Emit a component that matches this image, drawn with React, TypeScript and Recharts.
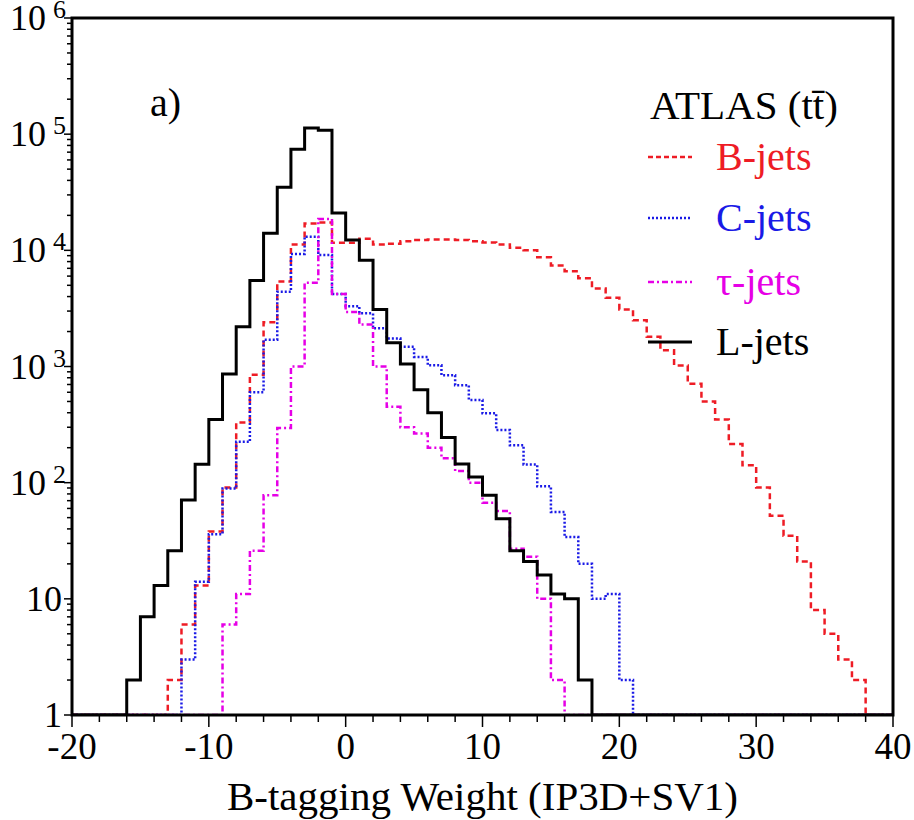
import { LineChart, Line, XAxis, YAxis } from 'recharts'

// histogram bins are 1 unit wide; each series lists its counts from its first bin
const X_MIN = -20
const X_MAX = 40
const BIN_EDGES = Array.from({ length: X_MAX - X_MIN + 1 }, (_, i) => X_MIN + i)

const B_JETS_FIRST = -13
const B_JETS = [
  2, 6, 13, 38, 91, 330, 850, 2400, 5400, 11200, 17000, 17400, 11600,
  11600, 12600, 11200, 11400, 12000, 12300, 12400, 12400, 12300, 12000, 11700,
  11200, 10500, 10000, 8700, 7400, 6600, 5750, 4700, 3900, 3100, 2500, 1800,
  1380, 1020, 710, 500, 350, 215, 141, 91, 52, 35, 21, 8, 5, 3, 2,
]

const C_JETS_FIRST = -12
const C_JETS = [
  3, 14, 36, 89, 225, 600, 1700, 4400, 9300, 13100, 9100, 4200,
  3300, 2870, 2130, 1740, 1480, 1210, 1025, 840, 690, 515, 395, 284, 210, 143,
  93, 56, 34, 20, 10, 11, 2,
]

const TAU_JETS_FIRST = -9
const TAU_JETS = [
  6, 11, 26, 78, 295, 1000, 5250, 18600, 4200,
  2950, 2300, 1000, 450, 300, 265, 200, 162, 126, 100, 67, 57, 27, 23, 10, 2,
]

const L_JETS_FIRST = -16
const L_JETS = [
  2, 7, 13, 26, 71, 144, 350, 860, 2200, 5500, 14000, 35000, 74000, 113000, 108000, 21000,
  12300, 8200, 3100, 1600, 1050, 630, 400, 245, 145, 112, 78, 49, 26, 21, 16, 11, 10, 2,
]

const X_TICKS = [-20, -18, -16, -14, -12, -10, -8, -6, -4, -2, 0, 2, 4, 6, 8, 10, 12, 14, 16, 18, 20, 22, 24, 26, 28, 30, 32, 34, 36, 38, 40]
const Y_DECADES = [1, 10, 100, 1000, 10000, 100000, 1000000]
const Y_TICKS = Y_DECADES.flatMap((d) => (d === 1000000 ? [d] : [1, 2, 3, 4, 5, 6, 7, 8, 9].map((m) => m * d)))

const Y_FLOOR = 1 // empty bins sit on the bottom of the log axis

const W = 914
const H = 820
const PLOT = { left: 72, top: 18, right: 893, bottom: 715 }
const FONT = 'Liberation Serif, Tinos, DejaVu Serif, serif'

const RED = '#ee1c25'
const BLUE = '#1a1ae6'
const MAGENTA = '#e600e6'

function binValue(first: number, counts: number[], edge: number) {
  const v = counts[edge - first]
  return v === undefined ? Y_FLOOR : v
}

const chartData = BIN_EDGES.map((e) => ({
  x: e,
  b: binValue(B_JETS_FIRST, B_JETS, e),
  c: binValue(C_JETS_FIRST, C_JETS, e),
  tau: binValue(TAU_JETS_FIRST, TAU_JETS, e),
  l: binValue(L_JETS_FIRST, L_JETS, e),
}))

function XTick({ x, y, payload }: any) {
  const v = payload.value as number
  const major = v % 10 === 0
  return (
    <g>
      <line x1={x} x2={x} y1={y} y2={y + (major ? 12 : 7)} stroke="#000" strokeWidth={1.5} />
      {major && (
        <text x={x} y={y + 44} textAnchor="middle" fontSize={37} fontFamily={FONT} fill="#000">
          {v}
        </text>
      )}
    </g>
  )
}

function YTick({ x, y, payload }: any) {
  const v = payload.value as number
  const exp = Math.round(Math.log10(v))
  const major = Math.abs(v - Math.pow(10, exp)) < 1e-6 * v
  let label = null
  if (major) {
    if (exp === 0 || exp === 1) {
      label = (
        <text x={x - 10} y={y + 12} textAnchor="end" fontSize={36} fontFamily={FONT} fill="#000">
          {exp === 0 ? '1' : '10'}
        </text>
      )
    } else {
      label = (
        <text x={x - 6} y={y + 12} textAnchor="end" fontFamily={FONT} fill="#000">
          <tspan fontSize={36}>10</tspan>
          <tspan fontSize={26} dx={7} dy={-12}>{exp}</tspan>
        </text>
      )
    }
  }
  return (
    <g>
      <line x1={x} x2={x - (major ? 8 : 5)} y1={y} y2={y} stroke="#000" strokeWidth={1.5} />
      {label}
    </g>
  )
}

const LEGEND = [
  { name: 'B-jets', color: RED, dash: '5 3', width: 2.5, y: 157 },
  { name: 'C-jets', color: BLUE, dash: '2 2', width: 2.5, y: 218 },
  { name: 'τ-jets', color: MAGENTA, dash: '6 3 2 3', width: 2.5, y: 282 },
  { name: 'L-jets', color: '#000', dash: undefined, width: 3, y: 342 },
]

export default function App() {
  return (
    <div style={{ position: 'absolute', left: 0, top: 0, width: W, height: H, background: '#fff' }}>
      <LineChart
        width={W}
        height={H}
        data={chartData}
        margin={{ top: PLOT.top, right: W - PLOT.right, bottom: 0, left: 0 }}
      >
        <XAxis
          dataKey="x"
          type="number"
          domain={[X_MIN, X_MAX]}
          ticks={X_TICKS}
          interval={0}
          height={H - PLOT.bottom}
          axisLine={false}
          tickLine={false}
          tickSize={0}
          tickMargin={0}
          tick={<XTick />}
          label={{
            value: 'B-tagging Weight (IP3D+SV1)',
            position: 'insideBottom',
            offset: 10,
            style: { fontSize: 41, fontFamily: FONT, fill: '#000' },
          }}
        />
        <YAxis
          type="number"
          scale="log"
          domain={[1, 1000000]}
          allowDataOverflow
          ticks={Y_TICKS}
          interval={0}
          width={PLOT.left}
          axisLine={false}
          tickLine={false}
          tickSize={0}
          tickMargin={0}
          tick={<YTick />}
        />
        <Line type="stepAfter" dataKey="b" stroke={RED} strokeWidth={2.5} strokeDasharray="6 4" dot={false} isAnimationActive={false} />
        <Line type="stepAfter" dataKey="c" stroke={BLUE} strokeWidth={2.5} strokeDasharray="2 2" dot={false} isAnimationActive={false} />
        <Line type="stepAfter" dataKey="tau" stroke={MAGENTA} strokeWidth={2.5} strokeDasharray="6 3 2 3" dot={false} isAnimationActive={false} />
        <Line type="stepAfter" dataKey="l" stroke="#000" strokeWidth={3} dot={false} isAnimationActive={false} />
      </LineChart>
      <svg
        width={W}
        height={H}
        style={{ position: 'absolute', left: 0, top: 0, pointerEvents: 'none' }}
      >
        <rect
          x={PLOT.left}
          y={PLOT.top}
          width={PLOT.right - PLOT.left}
          height={PLOT.bottom - PLOT.top}
          fill="none"
          stroke="#000"
          strokeWidth={3}
        />
        <text x={150} y={116} fontSize={40} fontFamily={FONT} fill="#000">a)</text>
        <text x={650} y={119} fontSize={41} fontFamily={FONT} fill="#000">ATLAS (tt̄)</text>
        {LEGEND.map((it) => (
          <g key={it.name}>
            <line x1={648} x2={692} y1={it.y} y2={it.y} stroke={it.color} strokeWidth={it.width} strokeDasharray={it.dash} />
            <text x={716} y={it.y + 13} fontSize={40} fontFamily={FONT} fill={it.color}>{it.name}</text>
          </g>
        ))}
      </svg>
    </div>
  )
}
